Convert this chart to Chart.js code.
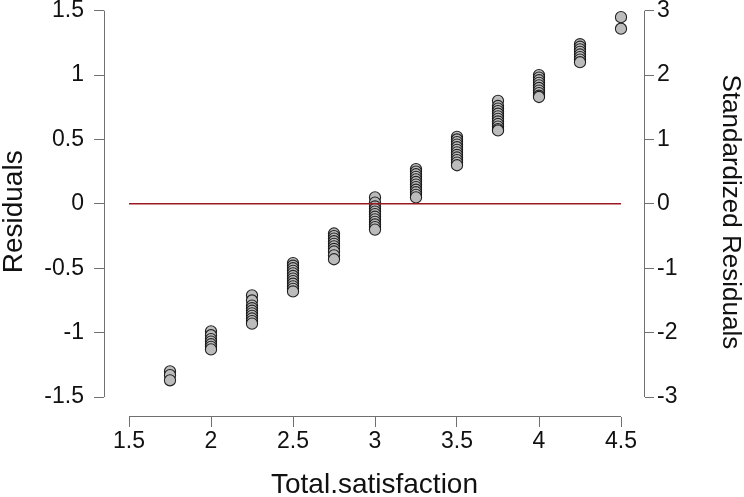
<!DOCTYPE html>
<html>
<head>
<meta charset="utf-8">
<script src="https://cdn.jsdelivr.net/npm/chart.js@4.4.1/dist/chart.umd.min.js"></script>
<style>
  html, body { margin: 0; padding: 0; background: #ffffff; }
  #wrap { width: 744px; height: 497px; position: relative; }
</style>
</head>
<body>
<div id="wrap"><canvas id="c" width="744" height="497"></canvas></div>
<script>
// ---- data ----
const xCategories = [1.75, 2.0, 2.25, 2.5, 2.75, 3.0, 3.25, 3.5, 3.75, 4.0, 4.25, 4.5];
const res175 = [-1.30, -1.33, -1.37];
const res200 = [-0.99, -1.02, -1.05, -1.07, -1.09, -1.11, -1.13];
const res225 = [-0.71, -0.75, -0.79, -0.81, -0.83, -0.85, -0.87, -0.89, -0.91, -0.93];
const res250 = [-0.46, -0.48, -0.50, -0.52, -0.54, -0.56, -0.58, -0.60, -0.62, -0.64, -0.66, -0.68];
const res275 = [-0.23, -0.25, -0.27, -0.29, -0.31, -0.33, -0.35, -0.37, -0.40, -0.43];
const res300 = [0.05, 0.01, -0.02, -0.04, -0.06, -0.08, -0.10, -0.12, -0.14, -0.16, -0.18, -0.20];
const res325 = [0.27, 0.25, 0.23, 0.21, 0.19, 0.17, 0.15, 0.13, 0.11, 0.09, 0.07, 0.05];
const res350 = [0.52, 0.50, 0.48, 0.46, 0.44, 0.42, 0.40, 0.38, 0.36, 0.34, 0.32, 0.30];
const res375 = [0.80, 0.76, 0.74, 0.72, 0.70, 0.68, 0.66, 0.64, 0.62, 0.60, 0.58, 0.57];
const res400 = [1.00, 0.98, 0.96, 0.94, 0.92, 0.90, 0.88, 0.86, 0.84, 0.83];
const res425 = [1.24, 1.22, 1.20, 1.18, 1.16, 1.14, 1.12, 1.10];
const res450 = [1.45, 1.36];
const residualGroups = [res175, res200, res225, res250, res275, res300, res325, res350, res375, res400, res425, res450];

const zeroLineX = [1.5, 4.5];
const zeroLineY = [0, 0];

const xTicks = [1.5, 2, 2.5, 3, 3.5, 4, 4.5];
const yTicks = [-1.5, -1, -0.5, 0, 0.5, 1, 1.5];
const y2Ticks = [-3, -2, -1, 0, 1, 2, 3];

const xTitle = 'Total.satisfaction';
const yTitle = 'Residuals';
const y2Title = 'Standardized Residuals';

// ---- build ----
const points = [];
xCategories.forEach((x, i) => residualGroups[i].forEach(v => points.push({ x: x, y: v })));
const zeroLine = zeroLineX.map((x, i) => ({ x: x, y: zeroLineY[i] }));

const FONT = "'Liberation Sans', Arial, Helvetica, sans-serif";
const AXIS_COLOR = '#707070';
const TEXT_COLOR = '#111111';

const fmt = v => String(v);

const rAxes = {
  id: 'rAxes',
  afterDatasetsDraw(chart) {
    const { ctx, chartArea, scales } = chart;
    ctx.save();
    ctx.strokeStyle = AXIS_COLOR;
    ctx.lineWidth = 1;
    ctx.beginPath();
    const lx = Math.round(chartArea.left) + 0.5;
    ctx.moveTo(lx, scales.y.getPixelForValue(yTicks[yTicks.length - 1]));
    ctx.lineTo(lx, scales.y.getPixelForValue(yTicks[0]));
    const rx = Math.round(chartArea.right) - 0.5;
    ctx.moveTo(rx, scales.y2.getPixelForValue(y2Ticks[y2Ticks.length - 1]));
    ctx.lineTo(rx, scales.y2.getPixelForValue(y2Ticks[0]));
    const by = Math.round(chartArea.bottom) - 0.5;
    ctx.moveTo(scales.x.getPixelForValue(xTicks[0]), by);
    ctx.lineTo(scales.x.getPixelForValue(xTicks[xTicks.length - 1]), by);
    ctx.stroke();
    ctx.restore();
  }
};

new Chart(document.getElementById('c'), {
  type: 'scatter',
  data: {
    datasets: [
      {
        label: 'zero',
        data: zeroLine,
        showLine: true,
        borderColor: '#9a1a22',
        borderWidth: 1.5,
        pointRadius: 0,
        order: 0,
        yAxisID: 'y'
      },
      {
        label: 'residuals',
        data: points,
        pointRadius: 5.6,
        pointBorderWidth: 1.1,
        pointBackgroundColor: '#bcbcbc',
        pointBorderColor: 'rgba(15,15,15,0.9)',
        order: 1,
        yAxisID: 'y'
      }
    ]
  },
  options: {
    responsive: false,
    animation: false,
    events: [],
    layout: { padding: { top: 2, left: 0, right: 0, bottom: 0 } },
    plugins: { legend: { display: false }, tooltip: { enabled: false } },
    scales: {
      x: {
        type: 'linear',
        position: 'bottom',
        min: 1.5 - 25 / 164,
        max: 4.5 + 24 / 164,
        afterBuildTicks: s => { s.ticks = xTicks.map(v => ({ value: v })); },
        afterFit: s => { s.height = 80; s.paddingLeft = 0; s.paddingRight = 0; },
        border: { display: false },
        grid: { drawOnChartArea: false, drawTicks: true, tickLength: 10, color: AXIS_COLOR, lineWidth: 1 },
        ticks: { callback: fmt, color: TEXT_COLOR, font: { family: FONT, size: 23 }, padding: 1, maxRotation: 0, autoSkip: false },
        title: { display: true, text: xTitle, color: TEXT_COLOR, font: { family: FONT, size: 28, lineHeight: 0.85 }, padding: 0 }
      },
      y: {
        type: 'linear',
        position: 'left',
        min: -1.5 - 20 / 129,
        max: 1.5 + 4 / 129,
        afterBuildTicks: s => { s.ticks = yTicks.map(v => ({ value: v })); },
        afterFit: s => { s.width = 104; s.paddingTop = 0; s.paddingBottom = 0; },
        border: { display: false },
        grid: { drawOnChartArea: false, drawTicks: true, tickLength: 10, color: AXIS_COLOR, lineWidth: 1 },
        ticks: { callback: fmt, color: TEXT_COLOR, font: { family: FONT, size: 23 }, padding: 10, autoSkip: false },
        title: { display: true, text: yTitle, color: TEXT_COLOR, font: { family: FONT, size: 28, lineHeight: 1 }, padding: 0 }
      },
      y2: {
        type: 'linear',
        position: 'right',
        min: -3 - 40 / 129,
        max: 3 + 8 / 129,
        afterBuildTicks: s => { s.ticks = y2Ticks.map(v => ({ value: v })); },
        afterFit: s => { s.width = 99; s.paddingTop = 0; s.paddingBottom = 0; },
        border: { display: false },
        grid: { drawOnChartArea: false, drawTicks: true, tickLength: 9, color: AXIS_COLOR, lineWidth: 1 },
        ticks: { callback: fmt, color: TEXT_COLOR, font: { family: FONT, size: 23 }, padding: 3, autoSkip: false },
        title: { display: true, text: y2Title, color: TEXT_COLOR, font: { family: FONT, size: 26, lineHeight: 1.05 }, padding: 0 }
      }
    }
  },
  plugins: [rAxes]
});
</script>
</body>
</html>
